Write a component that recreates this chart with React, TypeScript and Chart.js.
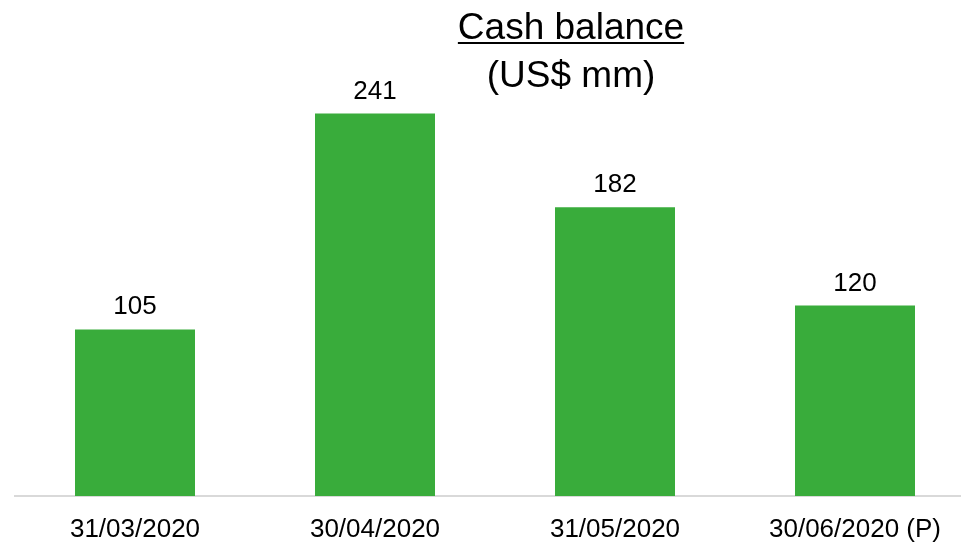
import React, { useEffect, useRef } from "react";
import { Chart, registerables } from "chart.js";

Chart.register(...registerables);

const categories = ["31/03/2020", "30/04/2020", "31/05/2020", "30/06/2020 (P)"];
const cashBalance = [105, 241, 182, 120];
const titleLines = ["Cash balance", "(US$ mm)"];

const FONT = "'Liberation Sans', Arial, sans-serif";

const titlePlugin = {
  id: "customTitle",
  afterDraw(chart: any) {
    const ctx = chart.ctx;
    ctx.save();
    ctx.fillStyle = "#000";
    ctx.font = `37px ${FONT}`;
    ctx.textAlign = "center";
    ctx.textBaseline = "alphabetic";
    const cx = 571;
    ctx.fillText(titleLines[0], cx, 39);
    const w = ctx.measureText(titleLines[0]).width;
    ctx.fillRect(cx - w / 2, 42, w, 2);
    ctx.fillText(titleLines[1], cx, 87);
    ctx.restore();
  },
};

const valueLabelPlugin = {
  id: "valueLabels",
  afterDatasetsDraw(chart: any) {
    const ctx = chart.ctx;
    const meta = chart.getDatasetMeta(0);
    ctx.save();
    ctx.fillStyle = "#000";
    ctx.font = `26px ${FONT}`;
    ctx.textAlign = "center";
    ctx.textBaseline = "alphabetic";
    meta.data.forEach((bar: any, i: number) => {
      ctx.fillText(String(chart.data.datasets[0].data[i]), bar.x, bar.y - 15);
    });
    ctx.restore();
  },
};

export default function App() {
  const ref = useRef<HTMLCanvasElement>(null);
  useEffect(() => {
    if (!ref.current) return;
    const chart = new Chart(ref.current, {
      type: "bar",
      data: {
        labels: categories,
        datasets: [
          {
            data: cashBalance,
            backgroundColor: "#39AC3B",
            categoryPercentage: 1,
            barPercentage: 0.5,
          },
        ],
      },
      options: {
        animation: false,
        responsive: false,
        maintainAspectRatio: false,
        layout: { padding: { left: 15, right: 15, top: 20, bottom: 0 } },
        plugins: { legend: { display: false }, tooltip: { enabled: false }, title: { display: false } },
        scales: {
          x: {
            grid: { display: false, drawTicks: false },
            border: { display: true, color: "#d9d9d9", width: 2 },
            ticks: { color: "#000", font: { family: FONT, size: 26 }, padding: 18, maxRotation: 0, autoSkip: false },
            afterFit: (s: any) => {
              s.height = 47;
            },
          },
          y: { display: false, min: 0, max: 300 },
        },
      },
      plugins: [titlePlugin, valueLabelPlugin],
    });
    return () => chart.destroy();
  }, []);
  return (
    <div style={{ position: "fixed", left: 0, top: 0, width: 961, height: 543, overflow: "hidden", background: "#fff" }}>
      <canvas ref={ref} width={990} height={543} style={{ display: "block", width: 990, height: 543 }} />
    </div>
  );
}
